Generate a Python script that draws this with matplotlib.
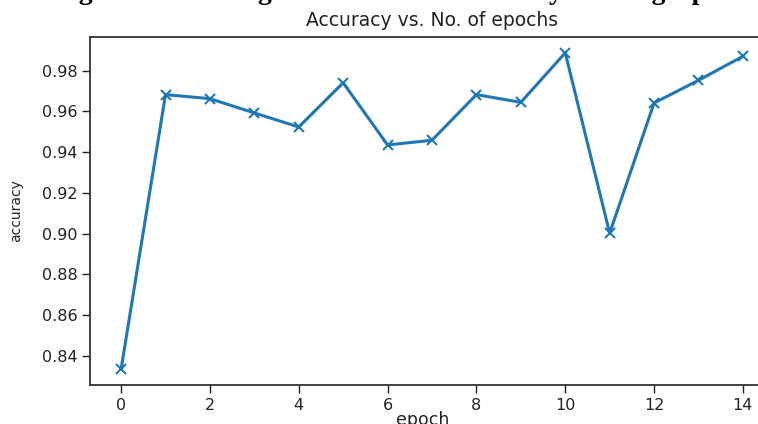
import matplotlib
matplotlib.use("Agg")
import matplotlib.pyplot as plt

epochs = list(range(15))
accuracy = [0.8335, 0.9682, 0.9662, 0.9592, 0.9523, 0.9740, 0.9435, 0.9458,
            0.9682, 0.9644, 0.9887, 0.9002, 0.9641, 0.9752, 0.9870]
x_ticks = [0, 2, 4, 6, 8, 10, 12, 14]
y_ticks = [0.84, 0.86, 0.88, 0.90, 0.92, 0.94, 0.96, 0.98]
title = "Accuracy vs. No. of epochs"
caption = "Figure 4: Training and validation accuracy vs loss graph"

fig = plt.figure(figsize=(7.58, 4.24), dpi=100)
ax = fig.add_axes([90 / 758, 1 - 385 / 424, 684 / 758, 348 / 424])

ax.plot(epochs, accuracy, marker="x", color="#1f77b4", linewidth=2.2, markersize=7.5,
        markeredgewidth=1.5)

ax.set_xticks(x_ticks)
ax.set_yticks(y_ticks)
ax.set_yticklabels([f"{v:.2f}" for v in y_ticks])
ax.tick_params(labelsize=11.5, colors="#222222", width=1.0, length=6, pad=3)
for s in ax.spines.values():
    s.set_linewidth(1.3)
    s.set_color("#333333")

ax.set_title(title, fontsize=13.5, color="#222222", pad=8)
ax.set_xlabel("epoch", fontsize=12.5, color="#222222", labelpad=0)
ax.xaxis.set_label_coords(0.487, -0.075)
ax.set_ylabel("accuracy", fontsize=10, color="#222222")
ax.yaxis.set_label_coords(-0.098, 0.5)

fig.text(0.512, 1 + 1 / 424, caption, ha="center", va="baseline",
         fontsize=20, fontweight="bold", family="Liberation Serif", color="black")

fig.savefig("out.png", dpi=100)
